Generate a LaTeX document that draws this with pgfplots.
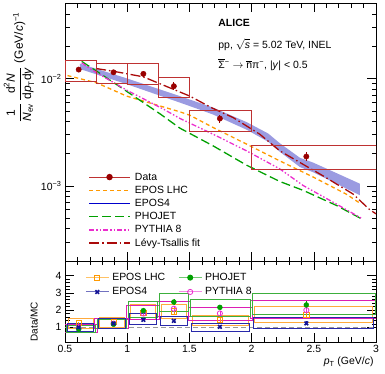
\documentclass[border=0pt]{standalone}
\usepackage{amsmath}
\usepackage{fontspec}
\setmainfont{Liberation Sans}
\usepackage{pgfplots}
\pgfplotsset{compat=1.18}

\definecolor{datared}{RGB}{153,0,0}
\definecolor{boxred}{RGB}{190,50,50}
\definecolor{eposlhc}{RGB}{255,153,0}
\definecolor{eposlhcbox}{RGB}{255,170,60}
\definecolor{eposfour}{RGB}{20,20,150}
\definecolor{eposfourbox}{RGB}{40,40,170}
\definecolor{eposband}{RGB}{155,155,225}
\definecolor{phojet}{RGB}{0,160,0}
\definecolor{phojetbox}{RGB}{60,175,60}
\definecolor{pythia}{RGB}{235,45,205}
\definecolor{pythiabox}{RGB}{220,30,180}
\definecolor{levy}{RGB}{170,10,10}

\pgfplotsset{
  alicestyle/.style={
    scale only axis, width=311bp, xmin=0.5, xmax=3,
    axis line style={line width=0.6pt},
    every tick/.style={black, line width=0.6pt},
    major tick length=9bp, minor tick length=4.5bp,
    ticklabel style={font=\fontsize{10.5}{12}\selectfont},
    unbounded coords=jump,
    xtick={0.5,1,1.5,2,2.5,3}, minor x tick num=4,
  },
}

\begin{document}
\begin{tikzpicture}
\useasboundingbox (0,0) rectangle (385bp,374bp);

% ---------------- spectrum ----------------
\begin{axis}[alicestyle,
    at={(65bp,113bp)}, anchor=south west, height=257.5bp,
    ymode=log, ymin=2e-4, ymax=0.05,
    xticklabels={},
    ytick={1e-3,1e-2},
    yticklabels={10\textsuperscript{−3},10\textsuperscript{−2}},
    minor ytick={3e-4,4e-4,5e-4,6e-4,7e-4,8e-4,9e-4,2e-3,3e-3,4e-3,5e-3,6e-3,7e-3,8e-3,9e-3,2e-2,3e-2,4e-2},
    legend cell align=left,
    legend style={at={(0.064,0.36)}, anchor=north west, draw=none, fill=none,
      font=\fontsize{10.5}{12}\selectfont, row sep=0pt,
      nodes={text height=8bp, text depth=2bp, inner sep=1.6bp, inner xsep=4bp}},
    legend image code/.code={\draw[mark repeat=2,mark phase=2,#1] plot coordinates {(0bp,0bp) (20.5bp,0bp) (41bp,0bp)};},
  ]
  \addlegendimage{draw=boxred, line width=1pt, mark=*, mark size=2.7, mark options={fill=datared, draw=datared}}
  \addlegendentry{Data}
  \addlegendimage{draw=eposlhc, line width=1.3pt, dash pattern=on 4bp off 3bp}
  \addlegendentry{EPOS LHC}
  \addlegendimage{blue!80!black, line width=1.9pt}
  \addlegendentry{EPOS4}
  \addlegendimage{draw=phojet, line width=1.3pt, dash pattern=on 9bp off 4bp}
  \addlegendentry{PHOJET}
  \addlegendimage{draw=pythia, color=pythia, line width=1.3pt, dash pattern=on 5bp off 2bp on 1.5bp off 2bp on 1.5bp off 2bp}
  \addlegendentry{PYTHIA 8}
  \addlegendimage{draw=levy, line width=1.3pt, dash pattern=on 10bp off 3bp on 1.5bp off 3bp}
  \addlegendentry{Lévy-Tsallis fit}

  % EPOS4 band (upper edge, then lower edge back)
  \addplot[forget plot, draw=none, fill=eposband] coordinates {
    (0.62,0.01377) (0.996,0.01005) (1.424,0.00686) (1.584,0.00592) (1.691,0.00536)
    (1.96,0.00393) (2.133,0.00308) (2.227,0.00250) (2.388,0.00183) (2.495,0.00165) (2.87,0.00105)
    (2.87,0.00082) (2.495,0.00134) (2.388,0.00150) (2.227,0.00208) (2.133,0.00258)
    (1.96,0.00334) (1.691,0.00462) (1.584,0.00513) (1.424,0.00597) (0.996,0.00887) (0.62,0.01227)
  } -- cycle;

  % EPOS LHC
  \addplot[forget plot, color=eposlhc, line width=1.3pt, dash pattern=on 4bp off 3bp] coordinates {
    (0.52,0.01066) (0.755,0.00912) (0.996,0.00686) (1.424,0.00490) (1.504,0.00455)
    (1.691,0.00350) (1.96,0.00245) (2.227,0.00171) (2.495,0.00121) (2.76,0.00084) (2.88,0.00068)
  };
  % PHOJET
  \addplot[forget plot, color=phojet, line width=1.3pt, dash pattern=on 9bp off 4bp] coordinates {
    (0.634,0.01445) (0.755,0.0117) (0.996,0.0076) (1.263,0.0047) (1.424,0.00345)
    (1.691,0.00236) (1.96,0.00156) (2.227,0.00110) (2.414,0.00091) (2.68,0.00066) (2.875,0.00050)
  };
  % PYTHIA 8
  \addplot[forget plot, color=pythia, line width=1.3pt, dash pattern=on 5bp off 2bp on 1.5bp off 2bp on 1.5bp off 2bp] coordinates {
    (0.634,0.0140) (0.755,0.0113) (0.996,0.0078) (1.29,0.0052) (1.424,0.00425)
    (1.691,0.00303) (1.96,0.00212) (2.227,0.00144) (2.414,0.00101) (2.68,0.00068) (2.883,0.00050)
  };
  % Levy-Tsallis fit
  \addplot[forget plot, color=levy, line width=1.3pt, dash pattern=on 10bp off 3bp on 1.5bp off 3bp] coordinates {
    (0.75,0.0124) (0.888,0.0117) (1.129,0.01038) (1.504,0.00686) (1.678,0.00535)
    (1.852,0.00433) (2.066,0.00303) (2.227,0.00212) (2.575,0.00124) (2.816,0.00084) (2.95,0.00060) (3.0,0.00055)
  };

  % systematic boxes
  \addplot[forget plot, color=boxred, line width=0.9pt, line cap=rect] coordinates {
    (0.5,0.00932) (0.75,0.00932) (0.75,0.01475) (0.5,0.01475) (0.5,0.00932) (0.5,nan)
    (0.75,0.00893) (1.0,0.00893) (1.0,0.01396) (0.75,0.01396) (0.75,0.00893) (0.75,nan)
    (1.0,0.00880) (1.25,0.00880) (1.25,0.01396) (1.0,0.01396) (1.0,0.00880) (1.0,nan)
    (1.25,0.00671) (1.5,0.00671) (1.5,0.01015) (1.25,0.01015) (1.25,0.00671) (1.25,nan)
    (1.5,0.00325) (2.0,0.00325) (2.0,0.00509) (1.5,0.00509) (1.5,0.00325) (1.5,nan)
    (2.0,0.00141) (3.0,0.00141) (3.0,0.00240) (2.0,0.00240) (2.0,0.00141)
  };
  % data
  \addplot[forget plot, only marks, mark=*, mark size=2.7, color=datared,
    error bars/.cd, y dir=both, y explicit, error bar style={line width=0.9pt}, error mark=none]
    coordinates {
    (0.61,0.01212) +- (0,0.0007)
    (0.89,0.01143) +- (0,0.0007)
    (1.13,0.01106) +- (0,0.0008)
    (1.375,0.00849) +- (0,0.0007)
    (1.745,0.00424) +- (0,0.00035)
    (2.44,0.00188) +- (0,0.00018)
  };

  \node[anchor=west, font=\fontsize{10.5}{12}\selectfont\bfseries] at (axis cs:1.705,0.0328) {ALICE};
  \node[anchor=west, font=\fontsize{10.5}{12}\selectfont] at (axis cs:1.705,0.0207)
    {pp, $\sqrt{\text{\textit{s}}}$ = 5.02 TeV, INEL};
  \node[anchor=west, font=\fontsize{10.5}{12}\selectfont] at (axis cs:1.705,0.0135)
    {$\overline{\text{Σ}}$\textsuperscript{−} $\rightarrow$ $\overline{\text{n}}$π\textsuperscript{−}, |\textit{y}| < 0.5};
\end{axis}

% ---------------- ratio ----------------
\begin{axis}[alicestyle,
    at={(65bp,32bp)}, anchor=south west, height=81bp,
    ymin=0.15, ymax=4.85,
    xticklabels={0.5,1,1.5,2,2.5,3},
    ytick={1,2,3,4}, yticklabels={1,2,3,4}, minor y tick num=4,
    legend columns=2,
    legend cell align=left,
    legend style={at={(0.055,0.91)}, anchor=north west, draw=none, fill=none,
      font=\fontsize{10.5}{12}\selectfont, row sep=0pt,
      /tikz/every even column/.append style={column sep=10bp},
      nodes={text height=8bp, text depth=2bp, inner sep=2.15bp, inner xsep=3bp}},
    legend image code/.code={\draw[mark repeat=2,mark phase=2,#1] plot coordinates {(0bp,0bp) (11.5bp,0bp) (23bp,0bp)};},
  ]
  \addlegendimage{draw=eposlhc!60, line width=1pt, mark=square, mark size=2.6, mark options={draw=eposlhc, line width=0.8pt}}
  \addlegendentry{EPOS LHC}
  \addlegendimage{draw=phojet!55, line width=1pt, mark=*, mark size=2.5, mark options={fill=phojet, draw=phojet}}
  \addlegendentry{PHOJET}
  \addlegendimage{draw=eposfour!60, line width=1pt, mark=x, mark size=2.6, mark options={draw=eposfour, line width=1.6pt}}
  \addlegendentry{EPOS4}
  \addlegendimage{draw=pythia!55, line width=1pt, mark=o, mark size=2.6, mark options={draw=pythia, line width=0.8pt}}
  \addlegendentry{PYTHIA 8}

  \addplot[forget plot, color=gray!80, line width=1pt, dash pattern=on 5bp off 3bp] coordinates {(0.5,1) (3,1)};

  % EPOS LHC boxes
  \addplot[forget plot, color=eposlhcbox, line width=0.9pt, line cap=rect] coordinates {
    (0.525,0.96) (0.725,0.96) (0.725,1.53) (0.525,1.53) (0.525,0.96) (0.5,nan)
    (0.775,1.01) (0.975,1.01) (0.975,1.59) (0.775,1.59) (0.775,1.01) (0.5,nan)
    (1.025,1.48) (1.225,1.48) (1.225,2.33) (1.025,2.33) (1.025,1.48) (0.5,nan)
    (1.275,1.52) (1.475,1.52) (1.475,2.32) (1.275,2.32) (1.275,1.52) (0.5,nan)
    (1.525,1.09) (1.975,1.09) (1.975,1.70) (1.525,1.70) (1.525,1.09) (0.5,nan)
    (2.025,1.29) (2.975,1.29) (2.975,2.20) (2.025,2.20) (2.025,1.29)
  };
  % PYTHIA 8 boxes
  \addplot[forget plot, color=pythiabox, line width=0.9pt, line cap=rect] coordinates {
    (0.49,0.73) (0.76,0.73) (0.76,1.16) (0.49,1.16) (0.49,0.73) (0.5,nan)
    (0.74,0.95) (1.01,0.95) (1.01,1.49) (0.74,1.49) (0.74,0.95) (0.5,nan)
    (0.99,1.44) (1.26,1.44) (1.26,2.27) (0.99,2.27) (0.99,1.44) (0.5,nan)
    (1.24,1.64) (1.51,1.64) (1.51,2.50) (1.24,2.50) (1.24,1.64) (0.5,nan)
    (1.49,1.39) (2.01,1.39) (2.01,2.17) (1.49,2.17) (1.49,1.39) (0.5,nan)
    (1.99,1.50) (3.01,1.50) (3.01,2.56) (1.99,2.56) (1.99,1.50)
  };
  % PHOJET boxes
  \addplot[forget plot, color=phojetbox, line width=0.9pt, line cap=rect] coordinates {
    (0.508,0.69) (0.742,0.69) (0.742,1.10) (0.508,1.10) (0.508,0.69) (0.5,nan)
    (0.758,0.92) (0.992,0.92) (0.992,1.44) (0.758,1.44) (0.758,0.92) (0.5,nan)
    (1.008,1.58) (1.242,1.58) (1.242,2.48) (1.008,2.48) (1.008,1.58) (0.5,nan)
    (1.258,1.95) (1.492,1.95) (1.492,2.96) (1.258,2.96) (1.258,1.95) (0.5,nan)
    (1.508,1.66) (1.992,1.66) (1.992,2.59) (1.508,2.59) (1.508,1.66) (0.5,nan)
    (2.008,1.73) (2.992,1.73) (2.992,2.94) (2.008,2.94) (2.008,1.73)
  };
  % EPOS4 boxes
  \addplot[forget plot, color=eposfourbox, line width=0.9pt, line cap=rect] coordinates {
    (0.518,0.77) (0.732,0.77) (0.732,1.22) (0.518,1.22) (0.518,0.77) (0.5,nan)
    (0.768,0.95) (0.982,0.95) (0.982,1.49) (0.768,1.49) (0.768,0.95) (0.5,nan)
    (1.018,1.15) (1.232,1.15) (1.232,1.81) (1.018,1.81) (1.018,1.15) (0.5,nan)
    (1.268,1.09) (1.482,1.09) (1.482,1.66) (1.268,1.66) (1.268,1.09) (0.5,nan)
    (1.518,0.79) (1.982,0.79) (1.982,1.24) (1.518,1.24) (1.518,0.79) (0.5,nan)
    (2.018,0.92) (2.982,0.92) (2.982,1.57) (2.018,1.57) (2.018,0.92)
  };

  % ratio points
  \addplot[forget plot, only marks, mark=square, mark size=2.6, color=eposlhc, mark options={line width=0.8pt},
    error bars/.cd, y dir=both, y explicit, error mark=none] coordinates {
    (0.61,1.25) +- (0,0.07) (0.89,1.30) +- (0,0.07) (1.13,1.85) +- (0,0.12)
    (1.375,1.93) +- (0,0.14) (1.745,1.42) +- (0,0.10) (2.44,1.72) +- (0,0.15)
  };
  \addplot[forget plot, only marks, mark=o, mark size=2.6, color=pythia, mark options={line width=0.8pt},
    error bars/.cd, y dir=both, y explicit, error mark=none] coordinates {
    (0.61,0.95) +- (0,0.06) (0.89,1.22) +- (0,0.07) (1.13,1.80) +- (0,0.12)
    (1.375,2.08) +- (0,0.15) (1.745,1.81) +- (0,0.13) (2.44,2.00) +- (0,0.18)
  };
  \addplot[forget plot, only marks, mark=*, mark size=2.5, color=phojet,
    error bars/.cd, y dir=both, y explicit, error mark=none] coordinates {
    (0.61,0.90) +- (0,0.05) (0.89,1.18) +- (0,0.07) (1.13,1.97) +- (0,0.13)
    (1.375,2.47) +- (0,0.18) (1.745,2.16) +- (0,0.15) (2.44,2.30) +- (0,0.20)
  };
  \addplot[forget plot, only marks, mark=x, mark size=2.6, color=eposfour, mark options={line width=1.6pt},
    error bars/.cd, y dir=both, y explicit, error mark=none] coordinates {
    (0.61,1.00) +- (0,0.06) (0.89,1.22) +- (0,0.07) (1.13,1.44) +- (0,0.10)
    (1.375,1.38) +- (0,0.10) (1.745,1.03) +- (0,0.08) (2.44,1.23) +- (0,0.11)
  };
\end{axis}

% axis titles
\node[rotate=90, font=\fontsize{12}{14}\selectfont] at (19bp,306.5bp)
  {$\displaystyle\frac{\text{1}}{\text{\textit{N}}_{\text{ev}}}\,\frac{\text{d}^{\text{2}}\text{\textit{N}}}{\text{d}\text{\textit{p}}_{\text{T}}\text{d}\text{\textit{y}}}$ (GeV/\textit{c})$^{\text{−1}}$};
\node[rotate=90, font=\fontsize{10}{12}\selectfont] at (34bp,52.3bp) {Data/MC};
\node[anchor=east, font=\fontsize{10.5}{12}\selectfont] at (377bp,12.3bp) {\textit{p}\textsubscript{T} (GeV/\textit{c})};
\end{tikzpicture}
\end{document}
